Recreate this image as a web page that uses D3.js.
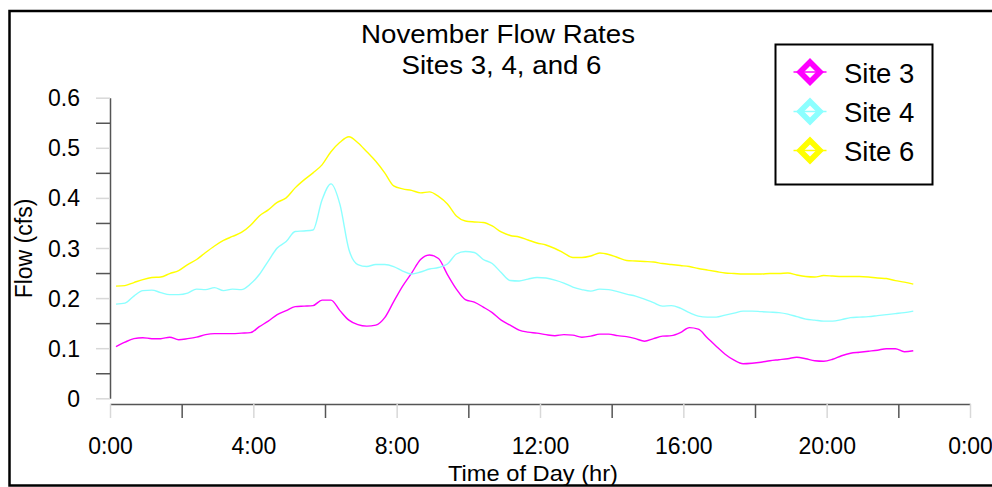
<!DOCTYPE html>
<html>
<head>
<meta charset="utf-8">
<script src="https://cdn.jsdelivr.net/npm/d3@7/dist/d3.min.js"></script>
<style>
  html, body { margin: 0; padding: 0; background: #fff; }
  svg { display: block; }
  text { font-family: "Liberation Sans", Arial, Helvetica, sans-serif; fill: #000; }
</style>
</head>
<body>
<svg id="chart" width="992" height="487"></svg>
<script>
// Sample times, minutes after midnight (15-minute logger interval)
const sampleMinutes = [
  10, 25, 40, 55, 70, 85, 100, 115, 130, 145,
  160, 175, 190, 205, 220, 235, 250, 265, 280, 295,
  310, 325, 340, 355, 370, 385, 400, 415, 430, 445,
  460, 475, 490, 505, 520, 535, 550, 565, 580, 595,
  610, 625, 640, 655, 670, 685, 700, 715, 730, 745,
  760, 775, 790, 805, 820, 835, 850, 865, 880, 895,
  910, 925, 940, 955, 970, 985, 1000, 1015, 1030, 1045,
  1060, 1075, 1090, 1105, 1120, 1135, 1150, 1165, 1180, 1195,
  1210, 1225, 1240, 1255, 1270, 1285, 1300, 1315, 1330, 1345
];

// Flow (cfs) per site
const site3Flow = [
  0.103, 0.112, 0.119, 0.121, 0.119, 0.119, 0.122, 0.117, 0.119, 0.122,
  0.127, 0.129, 0.129, 0.129, 0.130, 0.131, 0.143, 0.154, 0.167, 0.175,
  0.183, 0.184, 0.185, 0.196, 0.196, 0.175, 0.156, 0.147, 0.144, 0.146,
  0.161, 0.193, 0.224, 0.250, 0.277, 0.286, 0.279, 0.247, 0.218, 0.197,
  0.192, 0.182, 0.171, 0.156, 0.146, 0.136, 0.132, 0.130, 0.127, 0.125,
  0.127, 0.126, 0.122, 0.124, 0.128, 0.128, 0.125, 0.123, 0.119, 0.114,
  0.119, 0.124, 0.125, 0.131, 0.141, 0.138, 0.121, 0.104, 0.088, 0.076,
  0.069, 0.070, 0.072, 0.075, 0.077, 0.079, 0.082, 0.079, 0.075, 0.074,
  0.078, 0.085, 0.090, 0.092, 0.094, 0.096, 0.099, 0.099, 0.093, 0.095
];
const site4Flow = [
  0.188, 0.190, 0.204, 0.215, 0.216, 0.211, 0.207, 0.207, 0.210, 0.218,
  0.217, 0.221, 0.215, 0.218, 0.217, 0.228, 0.247, 0.274, 0.300, 0.313,
  0.333, 0.334, 0.336, 0.396, 0.428, 0.387, 0.297, 0.267, 0.263, 0.267,
  0.267, 0.263, 0.254, 0.248, 0.252, 0.258, 0.261, 0.268, 0.288, 0.293,
  0.291, 0.277, 0.269, 0.251, 0.235, 0.234, 0.238, 0.241, 0.240, 0.236,
  0.230, 0.222, 0.217, 0.214, 0.218, 0.217, 0.213, 0.208, 0.204, 0.198,
  0.191, 0.184, 0.185, 0.180, 0.171, 0.164, 0.162, 0.162, 0.166, 0.170,
  0.174, 0.174, 0.173, 0.172, 0.171, 0.168, 0.163, 0.158, 0.156, 0.154,
  0.154, 0.157, 0.161, 0.162, 0.163, 0.165, 0.167, 0.169, 0.171, 0.174
];
const site6Flow = [
  0.224, 0.225, 0.231, 0.237, 0.241, 0.242, 0.249, 0.255, 0.267, 0.277,
  0.291, 0.304, 0.315, 0.323, 0.331, 0.345, 0.364, 0.376, 0.391, 0.400,
  0.420, 0.436, 0.450, 0.466, 0.492, 0.511, 0.522, 0.510, 0.492, 0.473,
  0.450, 0.424, 0.418, 0.415, 0.410, 0.412, 0.403, 0.388, 0.364, 0.354,
  0.352, 0.351, 0.344, 0.332, 0.325, 0.322, 0.316, 0.310, 0.306, 0.299,
  0.290, 0.281, 0.281, 0.284, 0.290, 0.287, 0.281, 0.275, 0.274, 0.273,
  0.272, 0.269, 0.267, 0.265, 0.263, 0.259, 0.256, 0.253, 0.250, 0.249,
  0.248, 0.248, 0.248, 0.249, 0.249, 0.250, 0.246, 0.243, 0.242, 0.245,
  0.244, 0.243, 0.243, 0.243, 0.242, 0.240, 0.239, 0.235, 0.232, 0.228
];

const seriesNames = ["Site 3", "Site 4", "Site 6"];
const seriesColors = ["#ff00ff", "#8cffff", "#ffff00"];

const hourTicks = [0, 2, 4, 6, 8, 10, 12, 14, 16, 18, 20, 22, 24];
const hourLabels = ["0:00", "", "4:00", "", "8:00", "", "12:00", "", "16:00", "", "20:00", "", "0:00"];
const flowTicks = [0, 0.05, 0.1, 0.15, 0.2, 0.25, 0.3, 0.35, 0.4, 0.45, 0.5, 0.55, 0.6];
const flowLabels = ["0", "", "0.1", "", "0.2", "", "0.3", "", "0.4", "", "0.5", "", "0.6"];

const titleLines = ["November Flow Rates", "Sites 3, 4, and 6"];
const xTitle = "Time of Day (hr)";
const yTitle = "Flow (cfs)";

// ---- layout ----
const svg = d3.select("#chart");
const plot = { left: 110, right: 970, top: 97.7, bottom: 398.3, xAxisY: 404 };

const x = d3.scaleLinear().domain([0, 24]).range([plot.left, plot.right]);
const y = d3.scaleLinear().domain([0, 0.6]).range([plot.bottom, plot.top]);

const majorTickColor = "#d8d8d8";
const minorTickColor = "#555";
const axisColor = "#555";
const tickFont = 23;

// outer frame
svg.append("rect")
  .attr("x", 9.5).attr("y", 11).attr("width", 1000).attr("height", 474.5)
  .attr("fill", "none").attr("stroke", "#000").attr("stroke-width", 2.5);

// y axis
const yAxis = d3.axisLeft(y)
  .tickValues(flowTicks)
  .tickSize(14)
  .tickSizeOuter(0)
  .tickPadding(16)
  .tickFormat((d, i) => flowLabels[i]);
const gy = svg.append("g").attr("transform", `translate(${plot.left},0)`).call(yAxis);
gy.select(".domain").attr("stroke", axisColor).attr("stroke-width", 1.5);
gy.selectAll(".tick line")
  .attr("stroke", (d, i) => flowLabels[i] ? majorTickColor : minorTickColor)
  .attr("stroke-width", 1.5);
gy.selectAll(".tick text")
  .attr("font-size", tickFont).attr("dy", "0.35em")
  .attr("font-family", "Liberation Sans, Arial, sans-serif")
  .attr("fill", "#000");

// x axis
const xAxis = d3.axisBottom(x)
  .tickValues(hourTicks)
  .tickSize(14)
  .tickSizeOuter(0)
  .tickFormat((d, i) => hourLabels[i]);
const gx = svg.append("g").attr("transform", `translate(0,${plot.xAxisY})`).call(xAxis);
gx.select(".domain").attr("stroke", axisColor).attr("stroke-width", 1.5);
gx.selectAll(".tick line")
  .attr("stroke", (d, i) => hourLabels[i] ? majorTickColor : minorTickColor)
  .attr("stroke-width", 1.5);
gx.selectAll(".tick text")
  .attr("font-size", tickFont).attr("y", 50).attr("dy", 0)
  .attr("font-family", "Liberation Sans, Arial, sans-serif")
  .attr("fill", "#000");

// series lines
const allSeries = [site3Flow, site4Flow, site6Flow];
const line = d3.line()
  .x((d, i) => x(sampleMinutes[i] / 60))
  .y(d => y(d))
  .curve(d3.curveMonotoneX);

svg.append("g").selectAll("path")
  .data(allSeries)
  .join("path")
  .attr("d", line)
  .attr("fill", "none")
  .attr("stroke", (d, i) => seriesColors[i])
  .attr("stroke-width", 1.4)
  .attr("stroke-linejoin", "round");

// title
svg.append("text")
  .attr("x", 498).attr("y", 42.5).attr("text-anchor", "middle")
  .attr("font-size", 25).attr("textLength", 274).attr("lengthAdjust", "spacingAndGlyphs")
  .text(titleLines[0]);
svg.append("text")
  .attr("x", 501.5).attr("y", 74).attr("text-anchor", "middle")
  .attr("font-size", 25).attr("textLength", 200).attr("lengthAdjust", "spacingAndGlyphs")
  .text(titleLines[1]);

// axis titles
svg.append("text")
  .attr("x", 533).attr("y", 480.5).attr("text-anchor", "middle")
  .attr("font-size", 22).attr("textLength", 170).attr("lengthAdjust", "spacingAndGlyphs")
  .text(xTitle);
svg.append("text")
  .attr("transform", "translate(32,248.5) rotate(-90)")
  .attr("text-anchor", "middle")
  .attr("font-size", 23)
  .text(yTitle);

// legend
const legend = svg.append("g");
legend.append("rect")
  .attr("x", 775.5).attr("y", 44.5).attr("width", 157).attr("height", 140)
  .attr("fill", "#fff").attr("stroke", "#000").attr("stroke-width", 2);

const rowY = [72, 111.5, 150.5];
const items = legend.selectAll("g.item")
  .data(seriesNames)
  .join("g")
  .attr("class", "item")
  .attr("transform", (d, i) => `translate(810,${rowY[i]})`);

items.append("path")
  .attr("d", "M0,-14L14,0L0,14L-14,0Z M0,-6L-6,0L0,6L6,0Z")
  .attr("fill-rule", "evenodd")
  .attr("fill", (d, i) => seriesColors[i]);
items.append("line")
  .attr("x1", -16.5).attr("x2", 16.5).attr("y1", 0).attr("y2", 0)
  .attr("stroke", (d, i) => seriesColors[i]).attr("stroke-width", 1.6);
items.append("text")
  .attr("x", 34).attr("y", 10.5)
  .attr("font-size", 27.5)
  .text(d => d);
</script>
</body>
</html>
